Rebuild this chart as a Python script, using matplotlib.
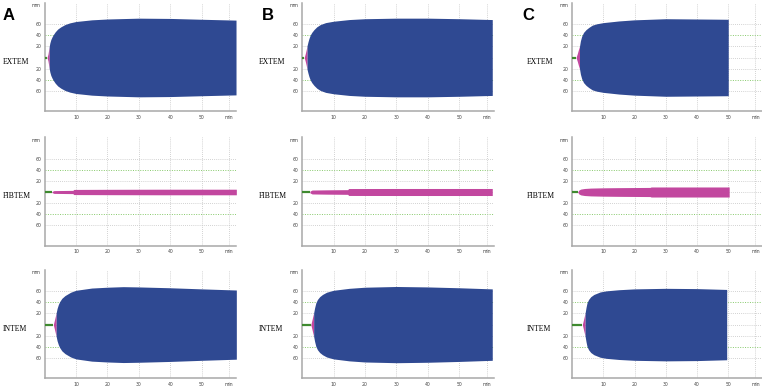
import matplotlib
matplotlib.use('Agg')
import matplotlib.pyplot as plt

# ROTEM traces: time (min) and amplitude (mm, half-width of trace)
a_extem_t = [0.8, 1.1, 1.3, 1.5, 1.7, 2.0, 2.4, 2.8, 3.4, 4.2, 5.2, 6.5, 8, 10, 15, 20, 30, 40, 50, 60.8]
a_extem_amp = [0, 6, 13, 20, 26, 32, 37, 41, 46, 51, 55, 59, 62, 64.5, 67.5, 69, 70.5, 70, 68.5, 67]
b_extem_t = [0.7, 1.0, 1.3, 1.6, 1.9, 2.2, 2.6, 3.1, 3.8, 4.7, 5.8, 7.5, 10, 15, 20, 30, 40, 50, 60.4]
b_extem_amp = [0, 6, 13, 21, 28, 34, 40, 45, 50, 55, 59, 62.5, 65, 68, 69.5, 70.5, 70.5, 69.5, 68]
c_extem_t = [1.3, 1.7, 2.0, 2.4, 2.7, 3.1, 3.7, 4.5, 5.4, 6.5, 8, 10, 15, 20, 30, 40, 50]
c_extem_amp = [0, 7, 13, 20, 30, 38, 45, 50, 54, 58, 60.5, 62.5, 65.5, 67.5, 69.5, 69, 68.5]

a_fibtem_t = [2.4, 3, 6, 9, 9.3, 20, 37, 45, 60.9]
a_fibtem_amp = [1.0, 2.5, 2.7, 2.9, 4.6, 4.8, 5.0, 5.0, 5.0]
b_fibtem_t = [2.5, 3.2, 8, 14.5, 14.8, 30, 60.4]
b_fibtem_amp = [1.5, 3.5, 3.9, 4.2, 6.2, 6.3, 6.3]
c_fibtem_t = [1.8, 2.2, 2.8, 4, 6, 10, 15, 25, 25.3, 50.3]
c_fibtem_amp = [0, 3.5, 5.2, 6.3, 7.0, 7.5, 7.8, 8.2, 9.0, 9.0]

a_intem_t = [2.8, 3.1, 3.4, 3.7, 4.0, 4.4, 4.8, 5.5, 6.5, 8.3, 10, 15, 20, 25, 30, 40, 50, 60.9]
a_intem_amp = [0, 7, 14, 21, 29, 36, 41, 47, 52, 58, 61.5, 65.5, 67, 68, 67.5, 66, 64, 62]
b_intem_t = [2.8, 3.1, 3.4, 3.7, 4.0, 4.4, 4.9, 5.6, 6.5, 7.8, 10, 15, 20, 30, 40, 50, 60.4]
b_intem_amp = [0, 7, 14, 21, 30, 39, 45, 50, 54, 58, 61.5, 65, 67, 68.3, 67.5, 66, 64]
c_intem_t = [3.3, 3.6, 3.9, 4.2, 4.5, 4.8, 5.3, 6.0, 7, 9, 11, 15, 20, 30, 40, 49.5]
c_intem_amp = [0, 7, 14, 21, 31, 39, 45, 50, 54, 58.5, 60.5, 62.5, 64, 65, 64.5, 63]

# clotting time (end of green line) and switch time pink -> blue
ct = {'A': [0.8, 2.4, 2.8], 'B': [0.7, 2.5, 2.8], 'C': [1.3, 1.8, 3.3]}
cft = {'A': [1.5, None, 3.7], 'B': [1.6, None, 3.7], 'C': [2.4, None, 4.2]}

tests = ['EXTEM', 'FIBTEM', 'INTEM']
panels = ['A', 'B', 'C']
traces = {
    'A': [(a_extem_t, a_extem_amp), (a_fibtem_t, a_fibtem_amp), (a_intem_t, a_intem_amp)],
    'B': [(b_extem_t, b_extem_amp), (b_fibtem_t, b_fibtem_amp), (b_intem_t, b_intem_amp)],
    'C': [(c_extem_t, c_extem_amp), (c_fibtem_t, c_fibtem_amp), (c_intem_t, c_intem_amp)],
}

ytick_pos = [94, 60, 40, 20, -20, -40, -60]
ytick_lab = ['mm', '60', '40', '20', '20', '40', '60']
xtick_pos = [10, 20, 30, 40, 50, 58.7]
xtick_lab = ['10', '20', '30', '40', '50', 'min']

BLUE = '#2f4992'
PINK = '#c2479f'
GREEN = '#3f8a2f'
GRID_GREEN = '#86c96a'
GRID_GREY = '#c4c4c4'

W, H = 762, 389
col_x0 = {'A': 44.5, 'B': 302, 'C': 572}
col_scale = {'A': 3.15, 'B': 3.15, 'C': 3.125}
row_center = [57.5, 192.0, 324.6]
mm_px = 0.558
XLIM = (0, 60.8)
YLIM = (-96, 98)


def draw_trace(ax, t, amp, t_ct, t_cft):
    ''' green flat line, pink start, blue rest '''
    ax.plot([0, t_ct], [0, 0], color=GREEN, lw=1.6, solid_capstyle='butt', zorder=3)
    if t_cft is None:
        ax.fill_between(t, [-a for a in amp], amp, color=PINK, lw=0, zorder=2)
        return
    n = len([x for x in t if x <= t_cft])
    ax.fill_between(t[:n], [-a for a in amp[:n]], amp[:n], color=PINK, lw=0, zorder=2)
    ax.fill_between(t[n - 1:], [-a for a in amp[n - 1:]], amp[n - 1:],
                    color=BLUE, lw=0, zorder=2)


def make_axes(fig, col, row):
    ''' place one panel in pixel coordinates '''
    x0 = col_x0[col]
    width = (XLIM[1] - XLIM[0]) * col_scale[col]
    top = row_center[row] - YLIM[1] * mm_px
    bottom = row_center[row] - YLIM[0] * mm_px
    ax = fig.add_axes([x0 / W, 1 - bottom / H, width / W, (bottom - top) / H])
    ax.set_xlim(*XLIM)
    ax.set_ylim(*YLIM)
    for s in ['top', 'right']:
        ax.spines[s].set_visible(False)
    for s in ['left', 'bottom']:
        ax.spines[s].set_color('#a8a8a8')
        ax.spines[s].set_linewidth(1.1)
    ax.set_yticks(ytick_pos, ytick_lab)
    ax.set_xticks(xtick_pos, xtick_lab)
    ax.tick_params(length=0, labelsize=3.3, labelcolor='#444444', pad=2.5)
    for y in [60, 20, 0, -20, -60]:
        ax.axhline(y, color=GRID_GREY, lw=0.6, ls=(0, (1, 1.5)), zorder=0)
    for y in [40, -40]:
        ax.axhline(y, color=GRID_GREEN, lw=0.7, ls=(0, (1, 1.5)), zorder=0)
    for x in xtick_pos:
        ax.axvline(x, color=GRID_GREY, lw=0.6, ls=(0, (1, 1.5)), zorder=0)
    return ax


def main():
    ''' do everything '''
    fig = plt.figure(figsize=(W / 100, H / 100), dpi=100)
    label_x = {'A': 2.5, 'B': 259, 'C': 527}
    letter_x = {'A': 3, 'B': 262, 'C': 522}
    for col in panels:
        for row, name in enumerate(tests):
            ax = make_axes(fig, col, row)
            t, amp = traces[col][row]
            draw_trace(ax, t, amp, ct[col][row], cft[col][row])
            fig.text(label_x[col] / W, 1 - (row_center[row] + 4) / H, name,
                     family='Liberation Serif', fontsize=5.5, ha='left', va='center')
        fig.text(letter_x[col] / W, 1 - 20 / H, col, family='Liberation Sans',
                 fontweight='bold', fontsize=12, ha='left', va='baseline')
    fig.savefig('out.png', dpi=100)


if __name__ == '__main__':
    main()
